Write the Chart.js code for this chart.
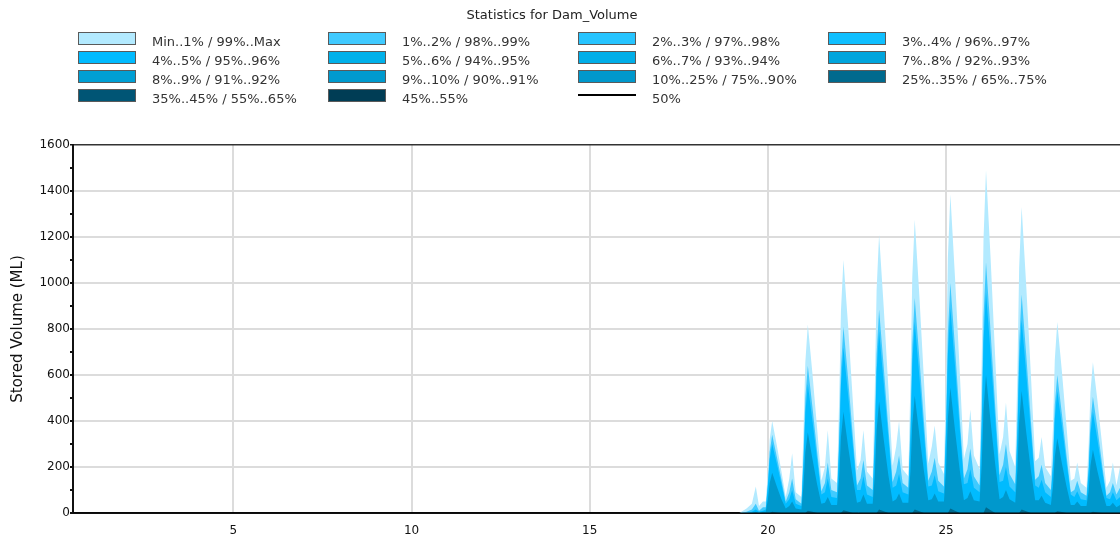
<!DOCTYPE html>
<html>
<head>
<meta charset="utf-8">
<script src="https://cdn.jsdelivr.net/npm/chart.js@4/dist/chart.umd.min.js"></script>
<style>
  body { margin: 0; background: #fff; font-family: "DejaVu Sans", sans-serif; }
  #wrap { position: relative; width: 1120px; height: 538px; overflow: hidden; }
  #chart { position: absolute; left: 0; top: 0; }
  #title { position: absolute; left: 0; top: 7px; width: 1104px; text-align: center; font-size: 13px; color: #222; }
  .item { position: absolute; font-size: 13px; color: #333; white-space: nowrap; }
  .box { position: absolute; width: 56px; height: 11px; border: 1px solid #5a5a5a; }
  .line { position: absolute; width: 58px; height: 0; border-top: 2px solid #000; }
</style>
</head>
<body>
<div id="wrap">
  <canvas id="chart" width="1120" height="538"></canvas>
  <div id="title">Statistics for Dam_Volume</div>
  <div id="legend"></div>
</div>
<script>
// ============================
// Data
// ============================
const bandLabels = [
  "Min..1% / 99%..Max", "1%..2% / 98%..99%", "2%..3% / 97%..98%", "3%..4% / 96%..97%",
  "4%..5% / 95%..96%", "5%..6% / 94%..95%", "6%..7% / 93%..94%", "7%..8% / 92%..93%",
  "8%..9% / 91%..92%", "9%..10% / 90%..91%", "10%..25% / 75%..90%", "25%..35% / 65%..75%",
  "35%..45% / 55%..65%", "45%..55%", "50%"
];
const bandColors = [
  "#b3eaff", "#40caff", "#26c4ff", "#0fbfff",
  "#00bbff", "#00b1ea", "#00aee8", "#00a5dd",
  "#009fd4", "#009ace", "#0098cc", "#006a8e",
  "#005575", "#003d55", "#000000"
];

const xTicks = [5, 10, 15, 20, 25];

// time (years) of each sample
const xs = [
  0.5, 19.2, 19.4, 19.55, 19.66, 19.75, 19.86,
  19.94, 20.00, 20.05, 20.12, 20.25, 20.38, 20.50, 20.60, 20.68, 20.78,
  20.94, 21.00, 21.05, 21.12, 21.25, 21.38, 21.50, 21.60, 21.68, 21.78,
  21.94, 22.00, 22.05, 22.12, 22.25, 22.38, 22.50, 22.60, 22.68, 22.78,
  22.94, 23.00, 23.05, 23.12, 23.25, 23.38, 23.50, 23.60, 23.68, 23.78,
  23.94, 24.00, 24.05, 24.12, 24.25, 24.38, 24.50, 24.60, 24.68, 24.78,
  24.94, 25.00, 25.05, 25.12, 25.25, 25.38, 25.50, 25.60, 25.68, 25.78,
  25.94, 26.00, 26.05, 26.12, 26.25, 26.38, 26.50, 26.60, 26.68, 26.78,
  26.94, 27.00, 27.05, 27.12, 27.25, 27.38, 27.50, 27.60, 27.68, 27.78,
  27.94, 28.00, 28.05, 28.12, 28.25, 28.38, 28.50, 28.60, 28.68, 28.78,
  28.94, 29.00, 29.05, 29.12, 29.25, 29.38, 29.50, 29.60, 29.68, 29.78,
  29.88
];

// upper envelopes of the bands (ML)
const maxV = [
  0, 0, 20, 40, 115, 30, 50,
  50, 180, 320, 400, 295, 180, 70, 150, 260, 90,
  70, 370, 655, 820, 605, 370, 140, 200, 360, 150,
  130, 495, 880, 1100, 815, 495, 185, 230, 360, 180,
  150, 545, 970, 1210, 895, 545, 205, 290, 400, 190,
  160, 575, 1020, 1275, 945, 575, 215, 290, 380, 220,
  170, 625, 1110, 1385, 1025, 625, 235, 300, 450, 250,
  190, 670, 1190, 1490, 1105, 670, 255, 330, 480, 270,
  200, 600, 1065, 1330, 985, 600, 225, 240, 330, 200,
  160, 375, 665, 830, 615, 375, 140, 150, 220, 130,
  110, 295, 525, 655, 485, 295, 110, 140, 220, 120,
  200
];
const p99 = [
  0, 0, 5, 15, 40, 10, 25,
  25, 135, 265, 340, 245, 145, 50, 90, 150, 60,
  40, 255, 500, 640, 460, 270, 95, 130, 220, 100,
  90, 325, 630, 810, 585, 340, 120, 150, 230, 120,
  100, 355, 690, 885, 635, 370, 135, 180, 250, 130,
  110, 375, 730, 935, 675, 395, 140, 180, 240, 140,
  115, 400, 780, 1000, 720, 420, 150, 190, 280, 160,
  120, 435, 850, 1090, 785, 460, 165, 210, 300, 170,
  125, 380, 740, 950, 685, 400, 145, 160, 210, 130,
  100, 240, 470, 600, 430, 250, 90, 100, 140, 90,
  75, 200, 395, 505, 365, 210, 75, 90, 130, 80,
  110
];
const p96 = [
  0, 0, 0, 5, 15, 5, 10,
  15, 120, 235, 300, 215, 125, 40, 60, 100, 40,
  30, 225, 435, 560, 400, 235, 80, 90, 150, 70,
  65, 290, 560, 720, 515, 300, 100, 100, 160, 80,
  70, 315, 615, 790, 565, 330, 110, 120, 170, 90,
  80, 330, 645, 830, 595, 345, 115, 120, 165, 95,
  85, 355, 690, 890, 640, 375, 125, 130, 190, 110,
  90, 385, 745, 960, 690, 405, 135, 140, 200, 115,
  90, 335, 650, 840, 605, 355, 120, 110, 145, 90,
  70, 210, 410, 530, 380, 220, 80, 70, 95, 60,
  55, 175, 345, 440, 315, 185, 65, 60, 90, 55,
  70
];
const p90 = [
  0, 0, 0, 0, 5, 0, 5,
  5, 60, 130, 175, 115, 60, 20, 30, 50, 20,
  15, 125, 265, 350, 235, 125, 40, 45, 70, 35,
  35, 155, 330, 440, 290, 155, 45, 50, 80, 40,
  40, 165, 360, 485, 320, 165, 50, 60, 85, 45,
  45, 180, 385, 510, 340, 180, 55, 60, 85, 50,
  50, 190, 410, 545, 360, 190, 55, 65, 95, 55,
  50, 210, 450, 600, 395, 210, 60, 70, 100, 60,
  45, 185, 395, 530, 350, 185, 55, 55, 75, 45,
  35, 115, 245, 325, 215, 115, 35, 35, 50, 30,
  30, 95, 205, 275, 180, 95, 30, 30, 45, 25,
  35
];
const p75 = [
  0, 0, 0, 0, 0, 0, 0,
  0, 0, 0, 5, 2, 0, 0, 0, 0, 0,
  0, 0, 0, 10, 5, 0, 0, 0, 0, 0,
  0, 0, 0, 12, 6, 0, 0, 0, 0, 0,
  0, 0, 0, 15, 8, 0, 0, 0, 0, 0,
  0, 0, 0, 15, 8, 0, 0, 0, 0, 0,
  0, 0, 0, 20, 10, 0, 0, 0, 0, 0,
  0, 0, 0, 25, 12, 0, 0, 0, 0, 0,
  0, 0, 0, 15, 8, 0, 0, 0, 0, 0,
  0, 0, 0, 8, 4, 0, 0, 0, 0, 0,
  0, 0, 0, 5, 2, 0, 0, 0, 0, 0,
  0
];
const medianX = [0.5, 29.88];
const median = [0, 0];

// ============================
// HTML legend (4 columns)
// ============================
const legend = document.getElementById("legend");
bandLabels.forEach((label, i) => {
  const col = i % 4, row = Math.floor(i / 4);
  const left = 78 + col * 250, top = 32 + row * 19;
  const mark = document.createElement("div");
  if (label === "50%") {
    mark.className = "line";
    mark.style.left = left + "px";
    mark.style.top = (top + 5) + "px";
  } else {
    mark.className = "box";
    mark.style.left = left + "px";
    mark.style.top = top + "px";
    mark.style.background = bandColors[i];
  }
  legend.appendChild(mark);
  const txt = document.createElement("div");
  txt.className = "item";
  txt.textContent = label;
  txt.style.left = (152 + col * 250) + "px";
  txt.style.top = (top + 2) + "px";
  legend.appendChild(txt);
});

// ============================
// Chart
// ============================
const toPts = (xArr, yArr) => xArr.map((x, i) => ({ x, y: yArr[i] }));

function band(data, color, order) {
  return {
    data: toPts(xs, data),
    backgroundColor: color,
    borderColor: "rgba(0,0,0,0)",
    borderWidth: 0,
    pointRadius: 0,
    fill: "origin",
    tension: 0,
    order
  };
}

const ctx = document.getElementById("chart").getContext("2d");
new Chart(ctx, {
  type: "line",
  data: {
    datasets: [
      band(maxV, bandColors[0], 6),
      band(p99, bandColors[1], 5),
      band(p96, bandColors[4], 4),
      band(p90, bandColors[10], 3),
      band(p75, bandColors[11], 2),
      {
        data: toPts(medianX, median),
        borderColor: "#000",
        borderWidth: 1,
        pointRadius: 0,
        fill: false,
        order: 1
      }
    ]
  },
  options: {
    responsive: false,
    animation: false,
    devicePixelRatio: 1,
    layout: { padding: { top: 145, left: 0, right: 0, bottom: 0 } },
    plugins: {
      legend: { display: false },
      tooltip: { enabled: false }
    },
    scales: {
      x: {
        type: "linear",
        min: 0.5,
        max: 29.88,
        afterBuildTicks(scale) {
          scale.ticks = xTicks.map(v => ({ value: v }));
        },
        afterFit(scale) { scale.height = 25; },
        grid: { color: "#dcdcdc", lineWidth: 2, drawTicks: false },
        border: { color: "#111", width: 2 },
        ticks: {
          font: { size: 12, family: "DejaVu Sans" },
          color: "#111",
          padding: 11,
          maxRotation: 0
        }
      },
      y: {
        min: 0,
        max: 1600,
        afterFit(scale) { scale.width = 73; },
        ticks: {
          stepSize: 100,
          autoSkip: false,
          font: { size: 12, family: "DejaVu Sans" },
          color: "#111",
          padding: 0,
          callback: v => (v % 200 === 0 ? v : "")
        },
        grid: {
          color: c => (c.tick.value === 1600 ? "#333" : (c.tick.value % 200 === 0 ? "#dcdcdc" : "rgba(0,0,0,0)")),
          lineWidth: c => (c.tick.value === 1600 ? 1.5 : 2),
          tickColor: "#111",
          tickLength: 3
        },
        border: { color: "#111", width: 2 },
        title: {
          display: true,
          text: "Stored Volume (ML)",
          font: { size: 15, family: "DejaVu Sans" },
          color: "#111",
          padding: { top: 9, bottom: 0 }
        }
      }
    }
  }
});
</script>
</body>
</html>
